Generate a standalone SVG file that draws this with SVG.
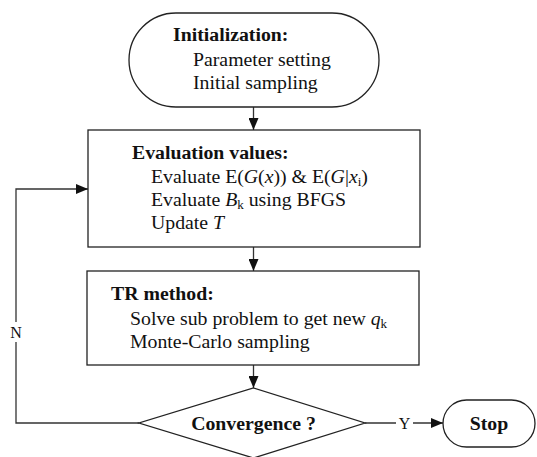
<svg xmlns="http://www.w3.org/2000/svg" width="537" height="457" viewBox="0 0 537 457">
<style>
.shape{fill:#fff;stroke:#222;stroke-width:1.3}
.conn{fill:none;stroke:#333;stroke-width:1.3}
text{font-family:"Liberation Serif","Times New Roman",serif;font-size:19.8px;fill:#111}
.b{font-weight:bold}
.i{font-style:italic}
.s{font-size:13px}
.lbl{font-size:16px}
</style>
<defs>
<marker id="arr" viewBox="0 0 12 10" refX="12" refY="5" markerWidth="12" markerHeight="10" markerUnits="userSpaceOnUse" orient="auto">
<path d="M0,0 L12,5 L0,10 Z" fill="#111"/>
</marker>
</defs>
<g id="connectors">
<line class="conn" x1="253.5" y1="107" x2="253.5" y2="130" marker-end="url(#arr)"/>
<line class="conn" x1="253.5" y1="247" x2="253.5" y2="271" marker-end="url(#arr)"/>
<line class="conn" x1="253.5" y1="365" x2="253.5" y2="388" marker-end="url(#arr)"/>
<polyline class="conn" points="139,423 16,423 16,189 88,189" marker-end="url(#arr)"/>
<rect x="8" y="322" width="16" height="20" fill="#fff"/>
<text class="lbl" x="16" y="338" text-anchor="middle">N</text>
<line class="conn" x1="365" y1="423" x2="443" y2="423" marker-end="url(#arr)"/>
<rect x="396" y="413" width="17" height="20" fill="#fff"/>
<text class="lbl" x="404.5" y="429" text-anchor="middle">Y</text>
</g>
<g id="init">
<rect class="shape" x="129" y="13" width="250" height="94" rx="47" ry="47"/>
<text class="b" x="173" y="41">Initialization:</text>
<text x="193" y="66">Parameter setting</text>
<text x="193" y="89">Initial sampling</text>
</g>
<g id="eval">
<rect class="shape" x="88" y="130" width="332" height="117"/>
<text class="b" x="132" y="159">Evaluation values:</text>
<text x="151" y="183">Evaluate E(<tspan class="i">G</tspan>(<tspan class="i">x</tspan>)) &amp; E(<tspan class="i">G</tspan>|<tspan class="i">x</tspan><tspan class="s" dy="3">i</tspan><tspan dy="-3">)</tspan></text>
<text x="151" y="206">Evaluate <tspan class="i">B</tspan><tspan class="s" dy="3">k</tspan><tspan dy="-3"> using BFGS</tspan></text>
<text x="151" y="229">Update <tspan class="i">T</tspan></text>
</g>
<g id="tr">
<rect class="shape" x="87" y="271" width="332" height="94"/>
<text class="b" x="111" y="300">TR method:</text>
<text x="130" y="325">Solve sub problem to get new <tspan class="i">q</tspan><tspan class="s" dy="3">k</tspan></text>
<text x="130" y="348">Monte-Carlo sampling</text>
</g>
<g id="conv">
<polygon class="shape" points="253.5,388 365,423 253.5,458 139,423"/>
<text class="b" x="253.5" y="430" text-anchor="middle">Convergence ?</text>
</g>
<g id="stop">
<rect class="shape" x="443" y="400" width="92" height="47" rx="23.5" ry="23.5"/>
<text class="b" x="489" y="430" text-anchor="middle">Stop</text>
</g>
</svg>
